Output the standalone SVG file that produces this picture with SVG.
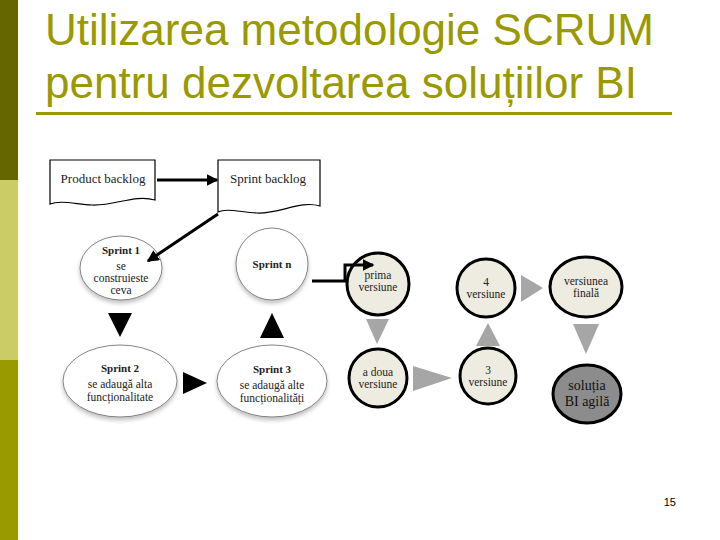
<svg xmlns="http://www.w3.org/2000/svg" width="720" height="540" viewBox="0 0 720 540">
<style>
.title{font-family:"Liberation Sans",Arial,sans-serif;font-size:44px;fill:#999900}
.t{font-family:"Liberation Serif","Times New Roman",serif;font-size:11.5px;fill:#222;text-anchor:middle}
.tb{font-family:"Liberation Serif","Times New Roman",serif;font-size:11px;font-weight:bold;fill:#222;text-anchor:middle}
.doc{font-family:"Liberation Serif","Times New Roman",serif;font-size:13px;fill:#222;text-anchor:middle}
.sol{font-family:"Liberation Serif","Times New Roman",serif;font-size:14px;fill:#111;text-anchor:middle}
.thin{fill:#fff;stroke:#666;stroke-width:0.8;filter:url(#sh)}
.ver{fill:#EEECE1;stroke:#000;stroke-width:3}
.blk{fill:#000}
.gry{fill:#A6A6A6}
.conn{fill:none;stroke:#000;stroke-width:3}
</style>
<defs>
<marker id="ah" markerWidth="4" markerHeight="4" refX="3.5" refY="2" orient="auto" markerUnits="strokeWidth">
<path d="M0,0 L4,2 L0,4 Z" fill="#000"/>
</marker>
<filter id="sh" x="-20%" y="-20%" width="140%" height="150%">
<feGaussianBlur in="SourceAlpha" stdDeviation="2"/>
<feOffset dx="0" dy="3" result="b"/>
<feComponentTransfer><feFuncA type="linear" slope="0.25"/></feComponentTransfer>
<feMerge><feMergeNode/><feMergeNode in="SourceGraphic"/></feMerge>
</filter>
</defs>
<rect width="720" height="540" fill="#fff"/>
<rect x="0" y="0" width="18" height="180" fill="#666600"/>
<rect x="0" y="180" width="18" height="180" fill="#CCCC66"/>
<rect x="0" y="360" width="18" height="180" fill="#999900"/>
<text class="title" x="45" y="45">Utilizarea metodologie SCRUM</text>
<text class="title" x="45" y="98">pentru dezvoltarea soluțiilor BI</text>
<rect x="36" y="112" width="636" height="3" fill="#999900"/>

<g id="product-backlog">
<path d="M50,160 H155 V200 C135,194 115,206 92,205 C75,204 60,200 50,204 Z" fill="#fff" stroke="#000" stroke-width="1.2"/>
<text class="doc" x="103" y="183">Product backlog</text>
</g>
<g id="sprint-backlog">
<path d="M218,160 H320 V206 C300,200 280,214 257,213 C240,212 226,208 218,212 Z" fill="#fff" stroke="#000" stroke-width="1.2"/>
<text class="doc" x="268" y="183">Sprint backlog</text>
</g>
<g id="sprint1">
<ellipse class="thin" cx="121" cy="268" rx="41" ry="32"/>
<text class="tb" x="121" y="254">Sprint 1</text>
<text class="t" x="121" y="270">se</text>
<text class="t" x="121" y="282">construieste</text>
<text class="t" x="121" y="294">ceva</text>
</g>
<g id="sprintn">
<ellipse class="thin" cx="272" cy="264" rx="36" ry="36"/>
<text class="tb" x="272" y="268">Sprint n</text>
</g>
<g id="sprint2">
<ellipse class="thin" cx="120" cy="381" rx="57" ry="36"/>
<text class="tb" x="120" y="372">Sprint 2</text>
<text class="t" x="120" y="388">se adaugă alta</text>
<text class="t" x="120" y="401">funcționalitate</text>
</g>
<g id="sprint3">
<ellipse class="thin" cx="272" cy="381" rx="55" ry="36"/>
<text class="tb" x="272" y="373">Sprint 3</text>
<text class="t" x="272" y="389">se adaugă alte</text>
<text class="t" x="272" y="402">funcționalități</text>
</g>
<g id="v1">
<circle class="ver" cx="378" cy="284" r="31"/>
<text class="t" x="378" y="279">prima</text>
<text class="t" x="378" y="291">versiune</text>
</g>
<g id="v2">
<circle class="ver" cx="378" cy="378" r="29"/>
<text class="t" x="378" y="376">a doua</text>
<text class="t" x="378" y="388">versiune</text>
</g>
<g id="v3">
<circle class="ver" cx="488" cy="376" r="28"/>
<text class="t" x="488" y="374">3</text>
<text class="t" x="488" y="386">versiune</text>
</g>
<g id="v4">
<circle class="ver" cx="486" cy="288" r="29"/>
<text class="t" x="486" y="286">4</text>
<text class="t" x="486" y="298">versiune</text>
</g>
<g id="vfinal">
<ellipse class="ver" cx="586" cy="287" rx="36" ry="30"/>
<text class="t" x="586" y="285">versiunea</text>
<text class="t" x="586" y="297">finală</text>
</g>
<g id="solutie">
<ellipse cx="587" cy="394" rx="34" ry="29" fill="#8C8C8C" stroke="#000" stroke-width="3"/>
<text class="sol" x="587" y="390">soluția</text>
<text class="sol" x="587" y="406">BI agilă</text>
</g>

<g id="connectors">
<line class="conn" x1="157" y1="180" x2="217" y2="180" marker-end="url(#ah)"/>
<line class="conn" x1="218" y1="214" x2="148" y2="261" marker-end="url(#ah)"/>
<polyline class="conn" points="312,281 345,281 345,265 373,265" marker-end="url(#ah)"/>
<path class="blk" d="M108,313 H132 L120,337 Z"/>
<path class="blk" d="M260,338 H284 L272,313 Z"/>
<path class="blk" d="M183,372 V394 L207,383 Z"/>
<path class="gry" d="M366,319 H389 L377,344 Z"/>
<path class="gry" d="M413,366 V391 L452,378 Z"/>
<path class="gry" d="M476,346 H500 L488,323 Z"/>
<path class="gry" d="M521,275 V302 L543,288 Z"/>
<path class="gry" d="M573,324 H599 L586,354 Z"/>
</g>
<text x="676" y="506" font-family="'Liberation Sans',Arial,sans-serif" font-size="11" fill="#000" text-anchor="end">15</text>
</svg>
